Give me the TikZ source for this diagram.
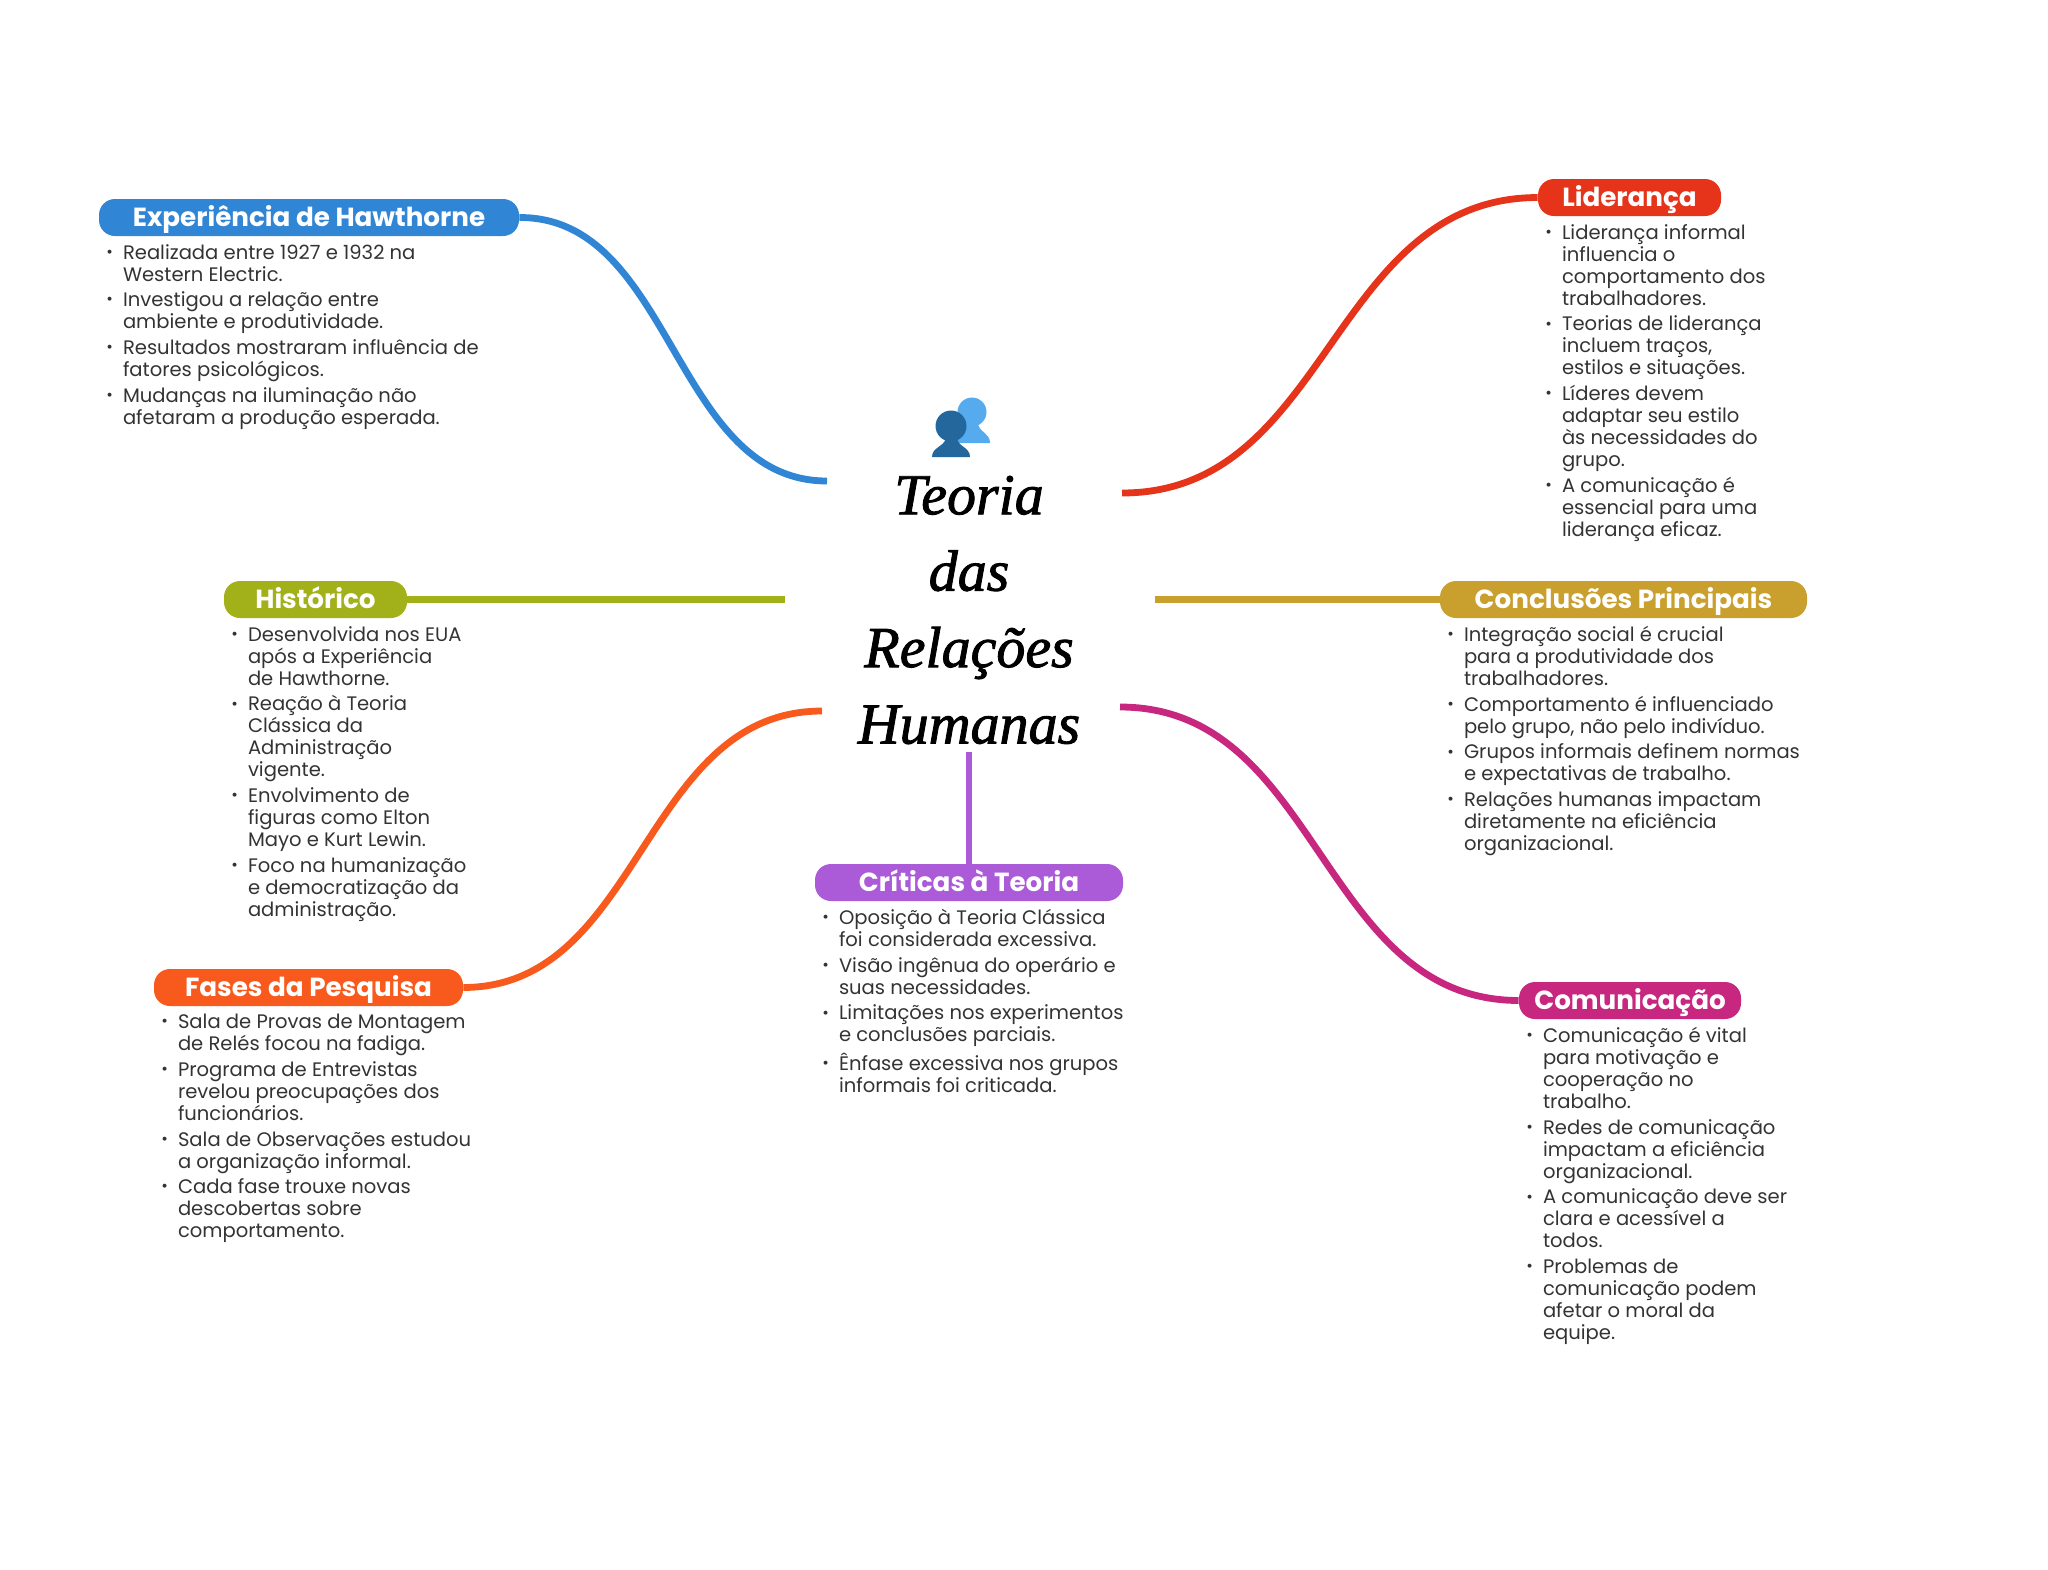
\documentclass[tikz,border=0pt]{standalone}
\usepackage{fontspec}
\setmainfont{Poppins}
\newfontfamily\titlefont[ItalicFeatures={FakeBold=1.5}]{Liberation Serif}
\usetikzlibrary{positioning}
\definecolor{cBlue}{HTML}{3085D4}
\definecolor{cRed}{HTML}{E5341A}
\definecolor{cOlive}{HTML}{A2B01A}
\definecolor{cGold}{HTML}{C9A02E}
\definecolor{cOrange}{HTML}{F75A1C}
\definecolor{cPurple}{HTML}{AB5BD8}
\definecolor{cMagenta}{HTML}{C7277F}
\definecolor{cText}{HTML}{333333}
\definecolor{cDark}{HTML}{23679C}
\definecolor{cLight}{HTML}{55ABEE}
\newcommand{\bul}{\llap{\raisebox{0.9pt}{\fontsize{8}{8}\selectfont\textbullet}\hspace{5pt}}}
\tikzset{
  pill/.style={fill=#1, text=white, rounded corners=8pt, inner xsep=0pt, inner ysep=2.75pt,
               text height=11.2pt, text depth=1.8pt, font=\fontsize{13.1}{15}\selectfont\bfseries},
  notes/.style={below right=3.7pt and 12pt of #1.south west, inner sep=0pt, align=left, text=cText,
                font=\fontsize{9.78}{11}\selectfont},
  link/.style={line width=3.4pt, #1},
}
\begin{document}
\begin{tikzpicture}[x=0.5pt,y=-0.5pt]
    \useasboundingbox (0,0) rectangle (2048,1569);
    % title and icon
    \fill[cLight] (972,412) circle (14.5);
    \fill[cLight] (954,443) .. controls (954,433) and (964,433) .. (966,424)
      -- (978,424) .. controls (980,433) and (990,433) .. (990,443) -- cycle;
    \fill[cDark] (951,426) circle (15.5);
    \fill[cDark] (932,457) .. controls (932,447) and (944,447) .. (946,438)
      -- (957,438) .. controls (958,447) and (970,447) .. (970,457) -- cycle;
    \node[font=\titlefont\fontsize{29}{38.2}\selectfont\itshape, align=center, text=black,
      inner sep=0pt] (title) at (969,610) {Teoria\\das\\Relações\\Humanas};
    \coordinate (hawthEnd) at (827,481);
    \coordinate (liderEnd) at (1122,493);
    \coordinate (histEnd) at (785,599.5);
    \coordinate (concEnd) at (1155,599.5);
    \coordinate (fasesEnd) at (822,711);
    \coordinate (comuEnd) at (1120,707);
    \coordinate (critEnd) at (969,752);
    % branches
    \node[pill=cBlue, minimum width=210pt] (hawth) at (309,217.5) {Experiência de Hawthorne};
    \node[pill=cRed, minimum width=91.5pt] (lider) at (1629.5,197.5) {Liderança};
    \node[pill=cOlive, minimum width=91.5pt] (hist) at (315.5,599.5) {Histórico};
    \node[pill=cGold, minimum width=183.5pt] (conc) at (1623.5,599.5) {Conclusões Principais};
    \node[pill=cPurple, minimum width=154pt] (crit) at (969,882.5) {Críticas à Teoria};
    \node[pill=cOrange, minimum width=154.5pt] (fases) at (308.5,987.5) {Fases da Pesquisa};
    \node[pill=cMagenta, minimum width=111pt] (comu) at (1630,1000.5) {Comunicação};
    \node[notes=hawth] (hawthTxt) {\bul Realizada entre 1927 e 1932 na\\Western Electric.\\[1.85pt]
      \bul Investigou a relação entre\\ambiente e produtividade.\\[1.85pt]
      \bul Resultados mostraram influência de\\fatores psicológicos.\\[1.85pt]
      \bul Mudanças na iluminação não\\afetaram a produção esperada.};
    \node[notes=lider] (liderTxt) {\bul Liderança informal\\influencia o\\comportamento dos\\trabalhadores.\\[1.85pt]
      \bul Teorias de liderança\\incluem traços,\\estilos e situações.\\[1.85pt]
      \bul Líderes devem\\adaptar seu estilo\\às necessidades do\\grupo.\\[1.85pt]
      \bul A comunicação é\\essencial para uma\\liderança eficaz.};
    \node[notes=hist] (histTxt) {\bul Desenvolvida nos EUA\\após a Experiência\\de Hawthorne.\\[1.85pt]
      \bul Reação à Teoria\\Clássica da\\Administração\\vigente.\\[1.85pt]
      \bul Envolvimento de\\figuras como Elton\\Mayo e Kurt Lewin.\\[1.85pt]
      \bul Foco na humanização\\e democratização da\\administração.};
    \node[notes=conc] (concTxt) {\bul Integração social é crucial\\para a produtividade dos\\trabalhadores.\\[1.85pt]
      \bul Comportamento é influenciado\\pelo grupo, não pelo indivíduo.\\[1.85pt]
      \bul Grupos informais definem normas\\e expectativas de trabalho.\\[1.85pt]
      \bul Relações humanas impactam\\diretamente na eficiência\\organizacional.};
    \node[notes=crit] (critTxt) {\bul Oposição à Teoria Clássica\\foi considerada excessiva.\\[1.85pt]
      \bul Visão ingênua do operário e\\suas necessidades.\\[1.85pt]
      \bul Limitações nos experimentos\\e conclusões parciais.\\[1.85pt]
      \bul Ênfase excessiva nos grupos\\informais foi criticada.};
    \node[notes=fases] (fasesTxt) {\bul Sala de Provas de Montagem\\de Relés focou na fadiga.\\[1.85pt]
      \bul Programa de Entrevistas\\revelou preocupações dos\\funcionários.\\[1.85pt]
      \bul Sala de Observações estudou\\a organização informal.\\[1.85pt]
      \bul Cada fase trouxe novas\\descobertas sobre\\comportamento.};
    \node[notes=comu] (comuTxt) {\bul Comunicação é vital\\para motivação e\\cooperação no\\trabalho.\\[1.85pt]
      \bul Redes de comunicação\\impactam a eficiência\\organizacional.\\[1.85pt]
      \bul A comunicação deve ser\\clara e acessível a\\todos.\\[1.85pt]
      \bul Problemas de\\comunicação podem\\afetar o moral da\\equipe.};
    % connectors
    \draw[link=cBlue] (hawth.east) .. controls (673,217) and (673,481) .. (hawthEnd);
    \draw[link=cRed] (lider.west) .. controls (1330,198) and (1330,493) .. (liderEnd);
    \draw[link=cOlive] (hist.east) -- (histEnd);
    \draw[link=cGold] (conc.west) -- (concEnd);
    \draw[link=cPurple] (crit.north) -- (critEnd);
    \draw[link=cOrange] (fases.east) .. controls (642,987) and (642,711) .. (fasesEnd);
    \draw[link=cMagenta] (comu.west) .. controls (1320,1000) and (1320,707) .. (comuEnd);
\end{tikzpicture}
\end{document}
